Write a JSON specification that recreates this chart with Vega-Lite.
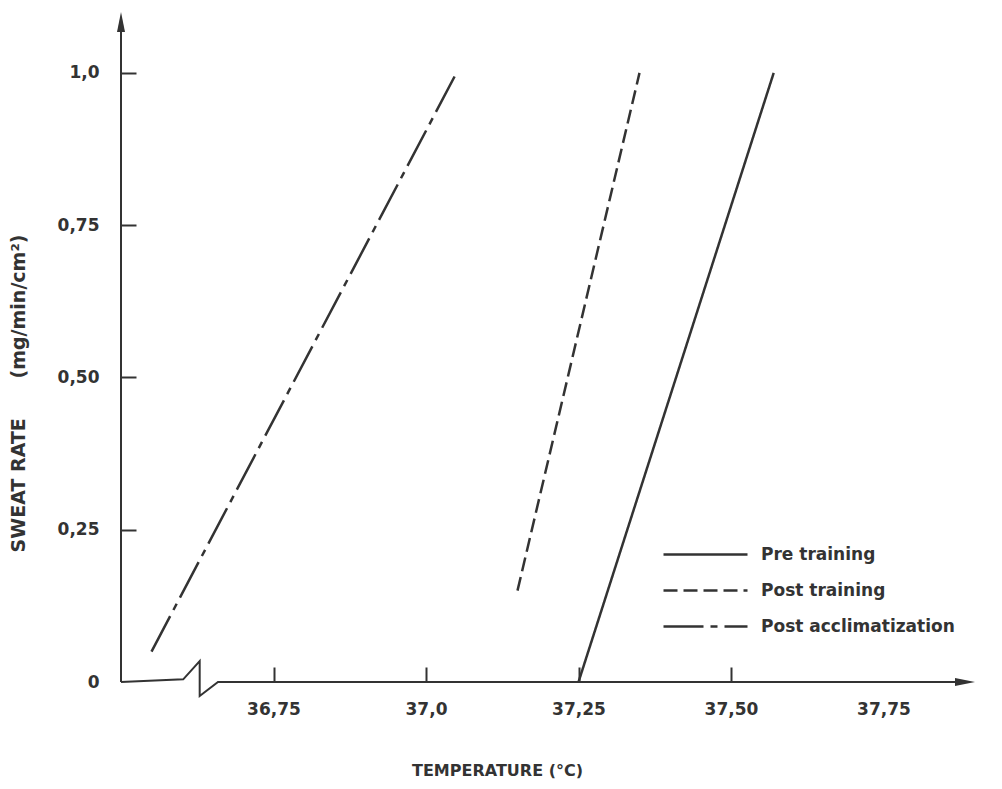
{
  "$schema": "https://vega.github.io/schema/vega-lite/v6.json",
  "width": 854,
  "height": 670,
  "autosize": {"type": "none"},
  "padding": {"left": 121, "top": 12, "right": 27, "bottom": 107},
  "background": "white",
  "config": {"view": {"stroke": null}, "font": "DejaVu Sans"},
  "datasets": {
    "curves": [
      {"group": "Pre training", "t": 37.25, "r": 0.0},
      {"group": "Pre training", "t": 37.57, "r": 1.0},
      {"group": "Post training", "t": 37.15, "r": 0.15},
      {"group": "Post training", "t": 37.35, "r": 1.0},
      {"group": "Post acclimatization", "t": 36.55, "r": 0.05},
      {"group": "Post acclimatization", "t": 37.05, "r": 1.0}
    ],
    "axes": [
      {"part": "x", "o": 1, "t": 36.5, "r": 0},
      {"part": "x", "o": 2, "t": 36.602, "r": 0.0044},
      {"part": "x", "o": 3, "t": 36.629, "r": 0.0345},
      {"part": "x", "o": 4, "t": 36.629, "r": -0.023},
      {"part": "x", "o": 5, "t": 36.659, "r": 0},
      {"part": "x", "o": 6, "t": 37.89, "r": 0},
      {"part": "y", "o": 1, "t": 36.5, "r": 0},
      {"part": "y", "o": 2, "t": 36.5, "r": 1.09}
    ],
    "arrows": [
      {"dir": "up", "t": 36.5, "r": 1.1},
      {"dir": "right", "t": 37.9, "r": 0}
    ]
  },
  "encoding": {
    "x": {
      "field": "t",
      "type": "quantitative",
      "scale": {"domain": [36.5, 37.9], "nice": false, "zero": false},
      "axis": {
        "domain": false,
        "grid": false,
        "values": [36.75, 37.0, 37.25, 37.5, 37.75],
        "labelExpr": "datum.value == 37 ? '37,0' : replace(format(datum.value, '.2f'), '.', ',')",
        "tickSize": -15,
        "tickWidth": 2,
        "tickColor": "#333",
        "tickOpacity": {"condition": {"test": "datum.value > 37.6", "value": 0}, "value": 1},
        "labelPadding": 34,
        "labelFont": "DejaVu Sans",
        "labelFontWeight": "bold",
        "labelFontSize": 17,
        "labelColor": "#333",
        "title": "TEMPERATURE (°C)",
        "titleFont": "DejaVu Sans",
        "titleFontSize": 16,
        "titleFontWeight": "bold",
        "titleColor": "#333",
        "titleX": 376,
        "titleY": 88,
        "titleBaseline": "middle"
      }
    },
    "y": {
      "field": "r",
      "type": "quantitative",
      "scale": {"domain": [0, 1.1], "nice": false},
      "axis": {
        "domain": false,
        "grid": false,
        "values": [0, 0.25, 0.5, 0.75, 1.0],
        "labelExpr": "datum.value == 0 ? '0' : datum.value == 1 ? '1,0' : replace(format(datum.value, '.2f'), '.', ',')",
        "tickSize": -15,
        "tickWidth": 2,
        "tickColor": "#333",
        "tickOpacity": {"condition": {"test": "datum.value < 0.1", "value": 0}, "value": 1},
        "labelPadding": 37,
        "labelFont": "DejaVu Sans",
        "labelFontWeight": "bold",
        "labelFontSize": 17,
        "labelColor": "#333",
        "title": "SWEAT RATE\u00a0\u00a0\u00a0\u00a0\u00a0\u00a0(mg/min/cm²)",
        "titleFont": "DejaVu Sans",
        "titleFontSize": 19,
        "titleFontWeight": "bold",
        "titleColor": "#333",
        "titleX": -103,
        "titleY": 381,
        "titleAngle": -90,
        "titleBaseline": "middle"
      }
    }
  },
  "layer": [
    {
      "data": {"name": "axes"},
      "mark": {"type": "line", "color": "#333", "strokeWidth": 2},
      "encoding": {
        "detail": {"field": "part", "type": "nominal"},
        "order": {"field": "o", "type": "quantitative"}
      }
    },
    {
      "data": {"name": "arrows"},
      "mark": {"type": "point", "filled": true, "color": "#333", "opacity": 1, "size": 400},
      "encoding": {
        "shape": {
          "field": "dir",
          "type": "nominal",
          "scale": {"domain": ["up", "right"], "range": ["M0,0L-0.4,2L0.4,2Z", "M0,0L-2,-0.4L-2,0.4Z"]},
          "legend": null
        }
      }
    },
    {
      "data": {"name": "curves"},
      "mark": {"type": "line", "color": "#333", "strokeWidth": 2.5},
      "encoding": {
        "strokeDash": {
          "field": "group",
          "type": "nominal",
          "scale": {
            "domain": ["Pre training", "Post training", "Post acclimatization"],
            "range": [[1, 0], [14, 6], [40, 7, 7, 7]]
          },
          "legend": {
            "title": null,
            "orient": "none",
            "legendX": 541,
            "legendY": 520,
            "symbolType": "M-1,0L3,0",
            "symbolSize": 1764,
            "symbolStrokeWidth": 2.5,
            "symbolStrokeColor": "#333",
            "symbolFillColor": "transparent",
            "labelFont": "DejaVu Sans",
            "labelFontWeight": "bold",
            "labelFontSize": 17,
            "labelColor": "#333",
            "labelOffset": 54,
            "labelLimit": 400,
            "rowPadding": 5
          }
        }
      }
    }
  ]
}
